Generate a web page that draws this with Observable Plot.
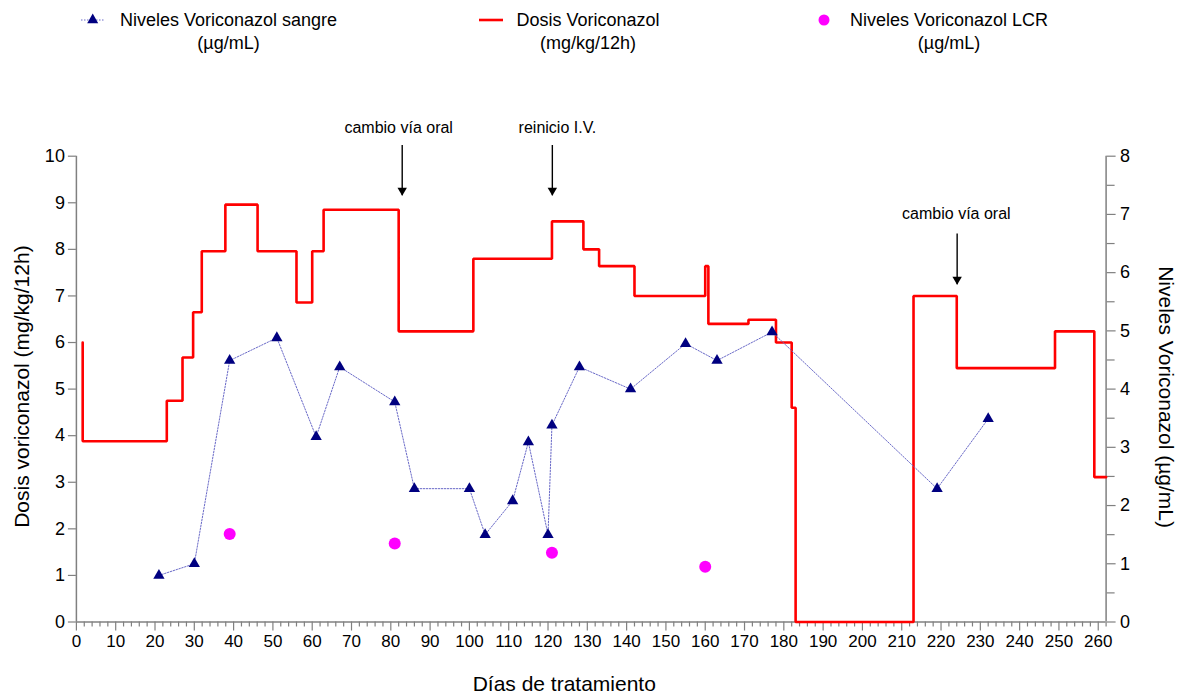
<!DOCTYPE html>
<html>
<head>
<meta charset="utf-8">
<script src="https://cdn.jsdelivr.net/npm/d3@7"></script>
<script src="https://cdn.jsdelivr.net/npm/@observablehq/plot@0.6"></script>
<style>
  body { margin: 0; background: white; }
  #wrap { width: 1182px; font-family: "Liberation Sans", Arial, Helvetica, sans-serif; }
  #legend { position: relative; width: 1182px; height: 70px; font-size: 18px; color: #000; }
  .lt { position: absolute; top: 8.5px; width: 320px; text-align: center; line-height: 23px; white-space: nowrap; }
  .sw { position: absolute; }
</style>
</head>
<body>
<div id="wrap">
  <div id="legend">
    <svg class="sw" style="left:78px;top:10px" width="30" height="20">
      <line x1="3" y1="10" x2="26" y2="10" stroke="#6a6ac8" stroke-width="1" stroke-dasharray="1.5,1.5"></line>
      <path d="M14.7,3.6 L20.2,13.2 L9.2,13.2 Z" fill="#000080"></path>
    </svg>
    <div class="lt" style="left:68.5px">Niveles Voriconazol sangre<br>(µg/mL)</div>
    <svg class="sw" style="left:476px;top:10px" width="30" height="20">
      <line x1="3" y1="10" x2="27" y2="10" stroke="#ff0000" stroke-width="2.6"></line>
    </svg>
    <div class="lt" style="left:428px">Dosis Voriconazol<br>(mg/kg/12h)</div>
    <svg class="sw" style="left:814px;top:10px" width="20" height="20">
      <circle cx="10" cy="10" r="5.5" fill="#ff00ff"></circle>
    </svg>
    <div class="lt" style="left:789px">Niveles Voriconazol LCR<br>(µg/mL)</div>
  </div>
  <div id="chart"></div>
</div>
<script>
// Dose (mg/kg/12h), change points of a step function (step-after)
const doseDays = [1.6, 1.6, 23, 27, 29.7, 31.9, 37.9, 46.1, 56, 60, 62.9, 82, 101, 121, 129, 133, 142, 160, 160.8, 171, 178, 182, 183, 213, 224, 249, 259, 262];
const doseVals = [6, 3.88, 4.75, 5.68, 6.65, 7.96, 8.96, 7.96, 6.86, 7.96, 8.85, 6.24, 7.8, 8.6, 8.0, 7.64, 7.0, 7.64, 6.4, 6.49, 6.0, 4.6, 0, 7.0, 5.45, 6.24, 3.11, 3.11];

// Blood voriconazole levels (µg/mL, right axis)
const bloodDays = [21, 30, 39, 51, 61, 67, 81, 86, 100, 104, 111, 115, 120, 121, 128, 141, 155, 163, 177, 219, 232];
const bloodVals = [0.8, 1.0, 4.49, 4.88, 3.18, 4.38, 3.78, 2.29, 2.29, 1.5, 2.08, 3.09, 1.5, 3.38, 4.38, 4.0, 4.78, 4.49, 4.98, 2.29, 3.49];

// CSF (LCR) voriconazole levels (µg/mL, right axis)
const lcrDays = [39, 81, 121, 160];
const lcrVals = [1.51, 1.35, 1.19, 0.95];

// Axis ticks
const xTicks = [0, 10, 20, 30, 40, 50, 60, 70, 80, 90, 100, 110, 120, 130, 140, 150, 160, 170, 180, 190, 200, 210, 220, 230, 240, 250, 260];
const leftTicks = [0, 1, 2, 3, 4, 5, 6, 7, 8, 9, 10];
const rightTicks = [0, 1, 2, 3, 4, 5, 6, 7, 8];
const rightMax = 8, leftMax = 10;

// Annotations
const annDays = [82.9, 121.1, 224.1];
const annTextDays = [82, 122.4, 223.9];
const annLabels = ["cambio vía oral", "reinicio I.V.", "cambio vía oral"];
const annTextY = [10.61, 10.61, 8.77];
const annArrowTop = [10.23, 10.23, 8.33];
const annArrowTip = [9.15, 9.15, 7.24];

const dose = doseDays.map((d, i) => ({day: d, v: doseVals[i]}));
const blood = bloodDays.map((d, i) => ({day: d, v: bloodVals[i]}));
const lcr = lcrDays.map((d, i) => ({day: d, v: lcrVals[i]}));
const ann = annDays.map((d, i) => ({day: d, tday: annTextDays[i], label: annLabels[i], ty: annTextY[i], top: annArrowTop[i], tip: annArrowTip[i]}));

const toLeft = v => v * leftMax / rightMax;
const xMinor = [];
for (let t = 0; t <= 262; t += 2) if (t % 10 !== 0) xMinor.push(t);
const rightMinor = rightTicks.slice(0, -1).map(t => t + 0.5);

const axisGray = "#808080";
const font = "Liberation Sans, Arial, Helvetica, sans-serif";

const chart = Plot.plot({
  width: 1182,
  height: 624,
  marginTop: 85.7,
  marginBottom: 72.5,
  marginLeft: 75.9,
  marginRight: 76.4,
  x: {domain: [0, 262]},
  y: {domain: [0, 10]},
  style: {fontFamily: font, background: "white", color: "black"},
  marks: [
    // axes
    Plot.axisX({ticks: xMinor, tickSize: 5, text: null, label: null, stroke: axisGray, strokeWidth: 1.2}),
    Plot.axisX({ticks: xTicks, tickSize: 9, tickPadding: 3.5, label: null, stroke: axisGray, strokeWidth: 1.2, color: "black", fontSize: 17}),
    Plot.axisY({ticks: leftTicks, tickSize: 8, tickPadding: 3.5, label: null, stroke: axisGray, strokeWidth: 1.2, color: "black", fontSize: 18}),
    Plot.axisY({anchor: "right", ticks: rightMinor.map(toLeft), tickSize: 8, text: null, label: null, stroke: axisGray, strokeWidth: 1.2}),
    Plot.axisY({anchor: "right", ticks: rightTicks.map(toLeft), tickFormat: d => String(Math.round(d * rightMax / leftMax)), tickSize: 9, tickPadding: 5, label: null, stroke: axisGray, strokeWidth: 1.2, color: "black", fontSize: 18}),
    Plot.ruleX([0], {stroke: axisGray, strokeWidth: 1.5}),
    Plot.ruleX([262], {stroke: axisGray, strokeWidth: 1.5}),
    Plot.ruleY([0], {stroke: axisGray, strokeWidth: 1.5}),
    // axis titles
    Plot.text(["Dosis voriconazol (mg/kg/12h)"], {frameAnchor: "left", textAnchor: "middle", lineAnchor: "middle", dx: -54, dy: -2.5, rotate: -90, fontSize: 21, fill: "black"}),
    Plot.text(["Niveles Voriconazol (µg/mL)"], {frameAnchor: "right", textAnchor: "middle", lineAnchor: "middle", dx: 59.4, dy: 8, rotate: 90, fontSize: 21, fill: "black"}),
    Plot.text(["Días de tratamiento"], {frameAnchor: "bottom", textAnchor: "middle", lineAnchor: "middle", dx: -27, dy: 62.5, fontSize: 21, fill: "black"}),
    // dose step line
    Plot.line(dose, {x: "day", y: "v", curve: "step-after", stroke: "#ff0000", strokeWidth: 2.6, strokeLinejoin: "miter"}),
    // blood levels
    Plot.line(blood, {x: "day", y: d => toLeft(d.v), stroke: "#6a6ac8", strokeWidth: 1, strokeDasharray: "1.5,1.5"}),
    Plot.dot(blood, {x: "day", y: d => toLeft(d.v), symbol: "triangle", r: 4.2, fill: "#000080", stroke: "none"}),
    // CSF levels
    Plot.dot(lcr, {x: "day", y: d => toLeft(d.v), r: 6, fill: "#ff00ff", stroke: "none"}),
    // annotations
    Plot.ruleX(ann, {x: "day", y1: "top", y2: "tip", stroke: "black", strokeWidth: 1.4}),
    Plot.dot(ann, {x: "day", y: "tip", dy: -5.4, symbol: "triangle", rotate: 180, r: 3.5, fill: "black", stroke: "none"}),
    Plot.text(ann, {x: "tday", y: "ty", text: "label", fontSize: 16, fill: "black"})
  ]
});
document.getElementById("chart").appendChild(chart);
</script>
</body>
</html>
